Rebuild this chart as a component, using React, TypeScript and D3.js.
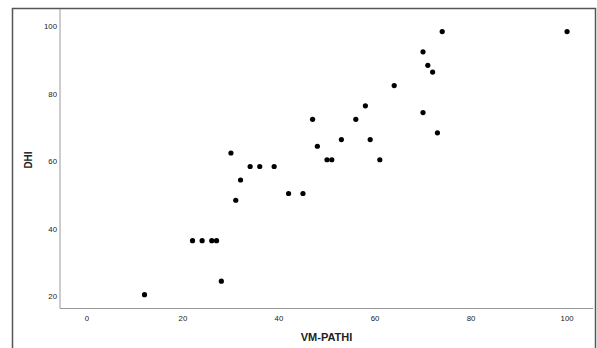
import * as d3 from 'd3';
import React, { useEffect, useRef } from 'react';

// VM-PATHI vs DHI scores
const vmPathi = [12, 22, 24, 26, 27, 28, 30, 31, 32, 34, 36, 39, 42, 45, 47, 48, 50, 51, 53, 56, 58, 59, 61, 64, 70, 70, 71, 72, 73, 74, 100];
const dhi = [20, 36, 36, 36, 36, 24, 62, 48, 54, 58, 58, 58, 50, 50, 72, 64, 60, 60, 66, 72, 76, 66, 60, 82, 92, 74, 88, 86, 68, 98, 98];
const xTicks = [0, 20, 40, 60, 80, 100];
const yTicks = [20, 40, 60, 80, 100];
const xTitle = 'VM-PATHI';
const yTitle = 'DHI';

const App = () => {
    const d3Container = useRef<SVGSVGElement | null>(null);
    const width = 597;
    const height = 348;
    const plot = { left: 60, right: 593, top: 9, bottom: 308.5 };

    useEffect(() => {
        var svg = d3.select(d3Container.current);
        svg.selectAll('*').remove();

        var x = d3.scaleLinear().domain([-5.6, 105.4]).range([plot.left, plot.right]);
        var y = d3.scaleLinear().domain([15.9, 104.7]).range([plot.bottom, plot.top]);

        // outer chart frame (bottom edge is cut off)
        svg.append('rect')
            .attr('x', 12.5)
            .attr('y', 8.5)
            .attr('width', 583)
            .attr('height', 380)
            .attr('fill', 'none')
            .attr('stroke', '#555')
            .attr('stroke-width', 1.5);

        // axis lines
        svg.append('line')
            .attr('x1', plot.left).attr('x2', plot.left)
            .attr('y1', plot.top).attr('y2', plot.bottom)
            .attr('stroke', '#999').attr('stroke-width', 1);
        svg.append('line')
            .attr('x1', plot.left).attr('x2', plot.right)
            .attr('y1', plot.bottom).attr('y2', plot.bottom)
            .attr('stroke', '#999').attr('stroke-width', 1);

        // tick labels
        svg.append('g').selectAll('text')
            .data(xTicks)
            .enter()
            .append('text')
            .attr('x', function(d) { return x(d); })
            .attr('y', 320.5)
            .attr('text-anchor', 'middle')
            .attr('font-family', 'Liberation Sans, Arial, sans-serif')
            .attr('font-size', 7.8)
            .attr('fill', '#222')
            .text(function(d) { return d; });

        svg.append('g').selectAll('text')
            .data(yTicks)
            .enter()
            .append('text')
            .attr('x', 57)
            .attr('y', function(d) { return y(d) + 4.5; })
            .attr('text-anchor', 'end')
            .attr('font-family', 'Liberation Sans, Arial, sans-serif')
            .attr('font-size', 7.8)
            .attr('fill', '#222')
            .text(function(d) { return d; });

        // axis titles
        svg.append('text')
            .attr('x', (plot.left + plot.right) / 2)
            .attr('y', 341)
            .attr('text-anchor', 'middle')
            .attr('font-family', 'Liberation Sans, Arial, sans-serif')
            .attr('font-size', 11)
            .attr('font-weight', 'bold')
            .attr('fill', '#222')
            .text(xTitle);

        svg.append('text')
            .attr('transform', 'translate(32,' + 160 + ') rotate(-90)')
            .attr('text-anchor', 'middle')
            .attr('font-family', 'Liberation Sans, Arial, sans-serif')
            .attr('font-size', 10)
            .attr('font-weight', 'bold')
            .attr('fill', '#222')
            .text(yTitle);

        // points
        svg.append('g').selectAll('circle')
            .data(vmPathi)
            .enter()
            .append('circle')
            .attr('cx', function(d) { return x(d); })
            .attr('cy', function(d, i) { return y(dhi[i]); })
            .attr('r', 2.6)
            .attr('fill', '#000');
    }, []);

    return (
        <svg ref={d3Container} width={width} height={height}
            style={{ position: 'fixed', left: 0, top: 0, background: '#fff' }}>
        </svg>
    );
};

export default App;
